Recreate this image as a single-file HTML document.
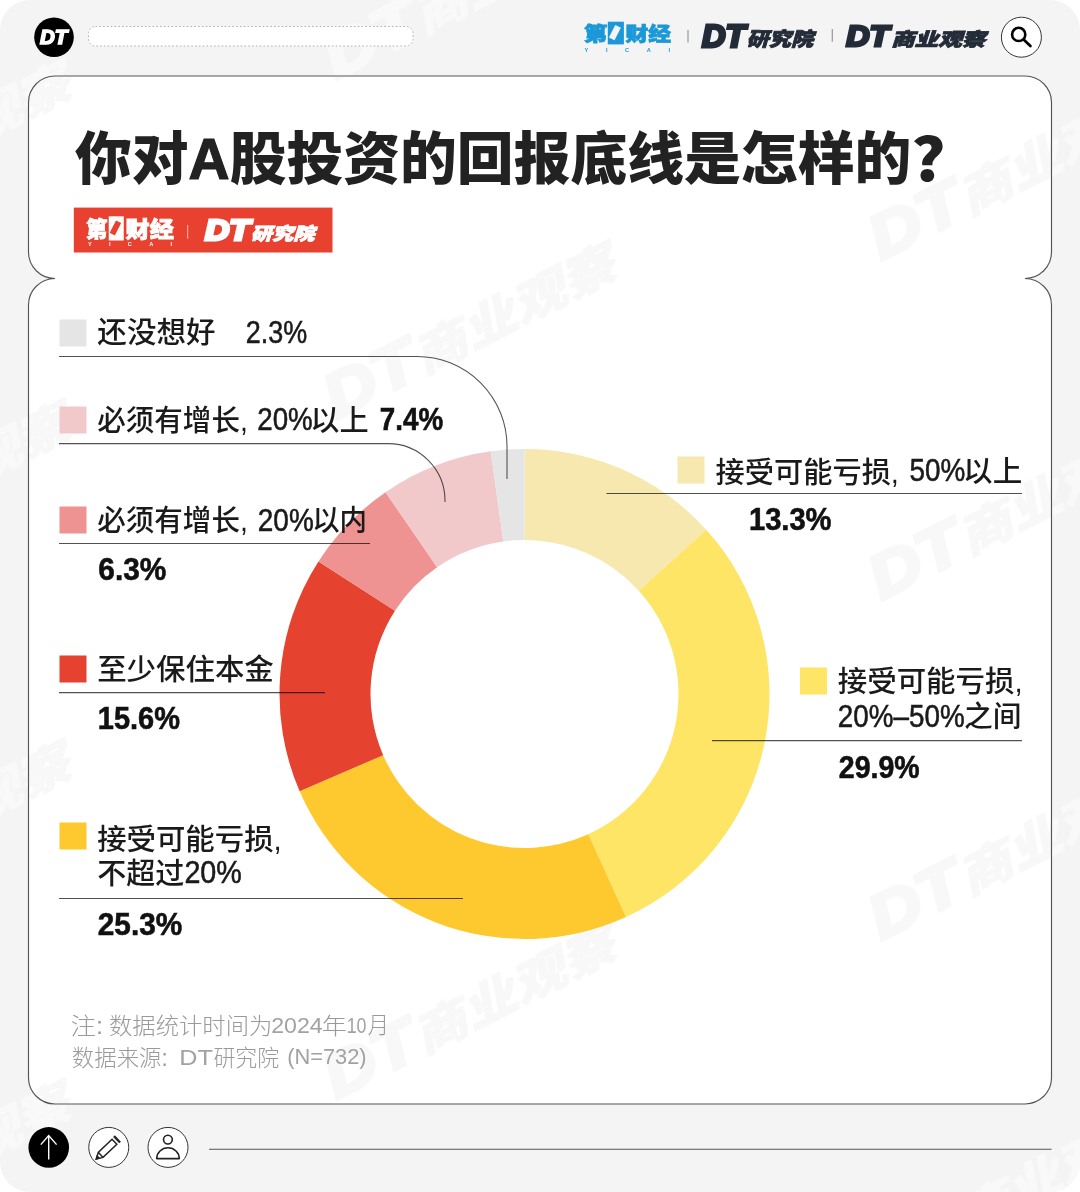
<!DOCTYPE html>
<html lang="zh-CN">
<head>
<meta charset="utf-8">
<title>你对A股投资的回报底线是怎样的?</title>
<style>
  html, body { margin: 0; padding: 0; background: #ffffff; }
  body { width: 1080px; height: 1192px; overflow: hidden; position: relative;
         font-family: "Liberation Sans", "Noto Sans CJK SC", sans-serif; }
  #page { position: absolute; left: 0; top: 0; width: 1080px; height: 1192px;
          background: #f4f4f4; border-radius: 30px; overflow: hidden; }
  svg { position: absolute; left: 0; top: 0; }
  text { font-family: "Liberation Sans", "Noto Sans CJK SC", sans-serif; }
  .lbl { font-weight: 500; fill: #1a1a1a; }
  .lat { font-weight: 400; fill: #1a1a1a; stroke: #1a1a1a; stroke-width: 0.55px; }
  .num { font-weight: 700; fill: #111111; stroke: #111111; stroke-width: 0.6px; }
  .note { font-weight: 300; fill: #9a9a9a; }
  .notel { font-weight: 400; fill: #a2a2a2; }
  .title { font-size: 57px; font-weight: 900; fill: #222222; }
  .lead { fill: none; stroke: #000000; stroke-opacity: 0.68; stroke-width: 1.05; }
</style>

</head>
<body>
<div id="page">
<svg width="1080" height="1192" viewBox="0 0 1080 1192">
  <!-- outer-page watermarks (on grey) -->
  <defs>
   <clipPath id="cardclip"><rect x="29" y="76.5" width="1022" height="1027" rx="26"/></clipPath>
  </defs>
  <g fill="#ffffff" stroke="#ffffff" opacity="0.42">
    <text transform="translate(-75,150) rotate(-27)" text-anchor="middle" y="18" style="font-style:italic;font-weight:900" font-size="47" textLength="318" lengthAdjust="spacingAndGlyphs"><tspan font-size="62" style="font-weight:700" stroke-width="4">DT</tspan>商业观察</text>
    <text transform="translate(-75,490) rotate(-27)" text-anchor="middle" y="18" style="font-style:italic;font-weight:900" font-size="47" textLength="318" lengthAdjust="spacingAndGlyphs"><tspan font-size="62" style="font-weight:700" stroke-width="4">DT</tspan>商业观察</text>
    <text transform="translate(-75,830) rotate(-27)" text-anchor="middle" y="18" style="font-style:italic;font-weight:900" font-size="47" textLength="318" lengthAdjust="spacingAndGlyphs"><tspan font-size="62" style="font-weight:700" stroke-width="4">DT</tspan>商业观察</text>
    <text transform="translate(-75,1170) rotate(-27)" text-anchor="middle" y="18" style="font-style:italic;font-weight:900" font-size="47" textLength="318" lengthAdjust="spacingAndGlyphs"><tspan font-size="62" style="font-weight:700" stroke-width="4">DT</tspan>商业观察</text>
    <text transform="translate(470,-9) rotate(-27)" text-anchor="middle" y="18" style="font-style:italic;font-weight:900" font-size="47" textLength="318" lengthAdjust="spacingAndGlyphs"><tspan font-size="62" style="font-weight:700" stroke-width="4">DT</tspan>商业观察</text>
    <text transform="translate(470,331) rotate(-27)" text-anchor="middle" y="18" style="font-style:italic;font-weight:900" font-size="47" textLength="318" lengthAdjust="spacingAndGlyphs"><tspan font-size="62" style="font-weight:700" stroke-width="4">DT</tspan>商业观察</text>
    <text transform="translate(470,671) rotate(-27)" text-anchor="middle" y="18" style="font-style:italic;font-weight:900" font-size="47" textLength="318" lengthAdjust="spacingAndGlyphs"><tspan font-size="62" style="font-weight:700" stroke-width="4">DT</tspan>商业观察</text>
    <text transform="translate(470,1011) rotate(-27)" text-anchor="middle" y="18" style="font-style:italic;font-weight:900" font-size="47" textLength="318" lengthAdjust="spacingAndGlyphs"><tspan font-size="62" style="font-weight:700" stroke-width="4">DT</tspan>商业观察</text>
    <text transform="translate(1015,172) rotate(-27)" text-anchor="middle" y="18" style="font-style:italic;font-weight:900" font-size="47" textLength="318" lengthAdjust="spacingAndGlyphs"><tspan font-size="62" style="font-weight:700" stroke-width="4">DT</tspan>商业观察</text>
    <text transform="translate(1015,512) rotate(-27)" text-anchor="middle" y="18" style="font-style:italic;font-weight:900" font-size="47" textLength="318" lengthAdjust="spacingAndGlyphs"><tspan font-size="62" style="font-weight:700" stroke-width="4">DT</tspan>商业观察</text>
    <text transform="translate(1015,852) rotate(-27)" text-anchor="middle" y="18" style="font-style:italic;font-weight:900" font-size="47" textLength="318" lengthAdjust="spacingAndGlyphs"><tspan font-size="62" style="font-weight:700" stroke-width="4">DT</tspan>商业观察</text>
    <text transform="translate(1015,1192) rotate(-27)" text-anchor="middle" y="18" style="font-style:italic;font-weight:900" font-size="47" textLength="318" lengthAdjust="spacingAndGlyphs"><tspan font-size="62" style="font-weight:700" stroke-width="4">DT</tspan>商业观察</text>
  </g>
  <!-- card: two stacked rounded panels, outer outline only -->
  <path d="M55,76 H1025 A26.5,26.5 0 0 1 1051.5,102.5 V252 A26.5,26.5 0 0 1 1025,278.5
           A26.5,26.5 0 0 1 1051.5,305 V1077.5 A26.5,26.5 0 0 1 1025,1104 H55
           A26.5,26.5 0 0 1 28.5,1077.5 V305 A26.5,26.5 0 0 1 55,278.5
           A26.5,26.5 0 0 1 28.5,252 V102.5 A26.5,26.5 0 0 1 55,76 Z"
        fill="#ffffff" stroke="#555555" stroke-width="1.15"/>
  <g clip-path="url(#cardclip)"><g fill="#000000" stroke="#000000" opacity="0.028">
    <text transform="translate(-75,150) rotate(-27)" text-anchor="middle" y="18" style="font-style:italic;font-weight:900" font-size="47" textLength="318" lengthAdjust="spacingAndGlyphs"><tspan font-size="62" style="font-weight:700" stroke-width="4">DT</tspan>商业观察</text>
    <text transform="translate(-75,490) rotate(-27)" text-anchor="middle" y="18" style="font-style:italic;font-weight:900" font-size="47" textLength="318" lengthAdjust="spacingAndGlyphs"><tspan font-size="62" style="font-weight:700" stroke-width="4">DT</tspan>商业观察</text>
    <text transform="translate(-75,830) rotate(-27)" text-anchor="middle" y="18" style="font-style:italic;font-weight:900" font-size="47" textLength="318" lengthAdjust="spacingAndGlyphs"><tspan font-size="62" style="font-weight:700" stroke-width="4">DT</tspan>商业观察</text>
    <text transform="translate(-75,1170) rotate(-27)" text-anchor="middle" y="18" style="font-style:italic;font-weight:900" font-size="47" textLength="318" lengthAdjust="spacingAndGlyphs"><tspan font-size="62" style="font-weight:700" stroke-width="4">DT</tspan>商业观察</text>
    <text transform="translate(470,-9) rotate(-27)" text-anchor="middle" y="18" style="font-style:italic;font-weight:900" font-size="47" textLength="318" lengthAdjust="spacingAndGlyphs"><tspan font-size="62" style="font-weight:700" stroke-width="4">DT</tspan>商业观察</text>
    <text transform="translate(470,331) rotate(-27)" text-anchor="middle" y="18" style="font-style:italic;font-weight:900" font-size="47" textLength="318" lengthAdjust="spacingAndGlyphs"><tspan font-size="62" style="font-weight:700" stroke-width="4">DT</tspan>商业观察</text>
    <text transform="translate(470,671) rotate(-27)" text-anchor="middle" y="18" style="font-style:italic;font-weight:900" font-size="47" textLength="318" lengthAdjust="spacingAndGlyphs"><tspan font-size="62" style="font-weight:700" stroke-width="4">DT</tspan>商业观察</text>
    <text transform="translate(470,1011) rotate(-27)" text-anchor="middle" y="18" style="font-style:italic;font-weight:900" font-size="47" textLength="318" lengthAdjust="spacingAndGlyphs"><tspan font-size="62" style="font-weight:700" stroke-width="4">DT</tspan>商业观察</text>
    <text transform="translate(1015,172) rotate(-27)" text-anchor="middle" y="18" style="font-style:italic;font-weight:900" font-size="47" textLength="318" lengthAdjust="spacingAndGlyphs"><tspan font-size="62" style="font-weight:700" stroke-width="4">DT</tspan>商业观察</text>
    <text transform="translate(1015,512) rotate(-27)" text-anchor="middle" y="18" style="font-style:italic;font-weight:900" font-size="47" textLength="318" lengthAdjust="spacingAndGlyphs"><tspan font-size="62" style="font-weight:700" stroke-width="4">DT</tspan>商业观察</text>
    <text transform="translate(1015,852) rotate(-27)" text-anchor="middle" y="18" style="font-style:italic;font-weight:900" font-size="47" textLength="318" lengthAdjust="spacingAndGlyphs"><tspan font-size="62" style="font-weight:700" stroke-width="4">DT</tspan>商业观察</text>
    <text transform="translate(1015,1192) rotate(-27)" text-anchor="middle" y="18" style="font-style:italic;font-weight:900" font-size="47" textLength="318" lengthAdjust="spacingAndGlyphs"><tspan font-size="62" style="font-weight:700" stroke-width="4">DT</tspan>商业观察</text>
  </g></g>
  <!-- header -->
  <circle cx="54" cy="37.2" r="19.8" fill="#000000"/>
  <rect x="88.5" y="26.5" width="324.5" height="19.5" rx="7" fill="#ffffff" stroke="#b0b0b0" stroke-width="1" stroke-dasharray="1.6 2.2"/>
  <circle cx="1021.4" cy="37.2" r="20" fill="#ffffff" stroke="#333333" stroke-width="1"/>
  <circle cx="1018.7" cy="34.4" r="6.6" fill="none" stroke="#000000" stroke-width="2.6"/>
  <path d="M1023.6,39.6 L1030.4,46" stroke="#000000" stroke-width="2.8" stroke-linecap="round"/>

  <text x="40.0" y="44.2" font-size="19.5" textLength="27.3" lengthAdjust="spacingAndGlyphs" style="font-weight:700;font-style:italic" fill="#ffffff" stroke="#ffffff" stroke-width="1.6" stroke-linejoin="miter">DT</text>
  <text x="583.9" y="41.1" font-size="19.4" textLength="23.27" lengthAdjust="spacingAndGlyphs" style="font-weight:900;font-style:normal" fill="#1b98d8" stroke="#1b98d8" stroke-width="0.8" stroke-linejoin="miter">第</text>
  <rect x="607.8" y="21.7" width="16.1" height="22.7" fill="#1b98d8"/>
  <text x="0" y="0" font-size="15" style="font-weight:900" fill="#f4f4f4" text-anchor="middle" transform="translate(615.9,33.2) rotate(-63) scale(1,2.6) translate(0,5.4)">一</text>
  <text x="625.6" y="41.1" font-size="19.4" textLength="45.24" lengthAdjust="spacingAndGlyphs" style="font-weight:900;font-style:normal" fill="#1b98d8" stroke="#1b98d8" stroke-width="0.8" stroke-linejoin="miter">财经</text>
  <text x="584.5" y="52.0" font-size="5.6" style="font-weight:700;letter-spacing:17.65px" fill="#1b98d8">YICAI</text>
  <path d="M688,30 V42.5 M832.3,29 V41.8" stroke="#9a9a9a" stroke-width="1.2"/>
  <text x="702.06" y="46.7" font-size="30.75" textLength="43.32" lengthAdjust="spacingAndGlyphs" style="font-weight:700;font-style:italic" fill="#232b38" stroke="#232b38" stroke-width="3.0" stroke-linejoin="miter">DT</text>
  <text x="746.56" y="45.8" font-size="19.4" textLength="66.61" lengthAdjust="spacingAndGlyphs" style="font-weight:900;font-style:italic" fill="#232b38" stroke="#232b38" stroke-width="0.8" stroke-linejoin="miter">研究院</text>
  <text x="846.36" y="46.05" font-size="30.38" textLength="42.93" lengthAdjust="spacingAndGlyphs" style="font-weight:700;font-style:italic" fill="#232b38" stroke="#232b38" stroke-width="3.0" stroke-linejoin="miter">DT</text>
  <text x="890.93" y="45.9" font-size="18.6" textLength="94.46" lengthAdjust="spacingAndGlyphs" style="font-weight:900;font-style:italic" fill="#232b38" stroke="#232b38" stroke-width="0.8" stroke-linejoin="miter">商业观察</text>
  <!-- title -->
  <text class="title" x="75" y="179.45" textLength="836.26" lengthAdjust="spacingAndGlyphs">你对<tspan stroke="#222222" stroke-width="1.2">A</tspan>股投资的回报底线是怎样的</text>
  <text class="title" x="910.9" y="180.55" font-size="59.1" textLength="34.7" lengthAdjust="spacingAndGlyphs" style="font-family:'Noto Sans CJK SC',sans-serif;font-size:59.1px">?</text>

  <rect x="73.8" y="207.6" width="258.7" height="44.9" fill="#e8412f"/>
  <text x="86.02" y="237.0" font-size="22.0" textLength="21.49" lengthAdjust="spacingAndGlyphs" style="font-weight:900;font-style:normal" fill="#ffffff" stroke="#ffffff" stroke-width="0.8" stroke-linejoin="miter">第</text>
  <rect x="108.75" y="216.3" width="15" height="24.2" fill="#ffffff"/>
  <text x="0" y="0" font-size="15" style="font-weight:900" fill="#e8412f" text-anchor="middle" transform="translate(116.25,228.4) rotate(-63) scale(1,2.4) translate(0,5.4)">一</text>
  <text x="125.5" y="237.0" font-size="22.0" textLength="48.27" lengthAdjust="spacingAndGlyphs" style="font-weight:900;font-style:normal" fill="#ffffff" stroke="#ffffff" stroke-width="0.8" stroke-linejoin="miter">财经</text>
  <text x="88" y="245.8" font-size="5.6" style="font-weight:700;letter-spacing:17.28px" fill="#ffffff">YICAI</text>
  <path d="M187.6,225 V238.8" stroke="#f4a79d" stroke-width="1.2"/>
  <text x="204.91" y="239.62" font-size="29.06" textLength="45.04" lengthAdjust="spacingAndGlyphs" style="font-weight:700;font-style:italic" fill="#ffffff" stroke="#ffffff" stroke-width="3.0" stroke-linejoin="miter">DT</text>
  <text x="250.79" y="239.5" font-size="17.5" textLength="63.72" lengthAdjust="spacingAndGlyphs" style="font-weight:900;font-style:italic" fill="#ffffff" stroke="#ffffff" stroke-width="0.8" stroke-linejoin="miter">研究院</text>
  <!-- donut -->
  <circle cx="524.5" cy="694.0" r="155.0" fill="#ffffff"/>
  <path d="M524.50,449.00 A245.0,245.0 0 0 1 706.23,529.68 L638.73,590.71 A154.0,154.0 0 0 0 524.50,540.00 Z" fill="#f7e8b0"/>
  <path d="M706.23,529.68 A245.0,245.0 0 0 1 626.02,916.98 L588.31,834.16 A154.0,154.0 0 0 0 638.73,590.71 Z" fill="#fee566"/>
  <path d="M626.02,916.98 A245.0,245.0 0 0 1 299.65,791.30 L383.17,755.16 A154.0,154.0 0 0 0 588.31,834.16 Z" fill="#fec92e"/>
  <path d="M299.65,791.30 A245.0,245.0 0 0 1 318.47,561.43 L394.99,610.67 A154.0,154.0 0 0 0 383.17,755.16 Z" fill="#e5432f"/>
  <path d="M318.47,561.43 A245.0,245.0 0 0 1 385.52,492.23 L437.14,567.18 A154.0,154.0 0 0 0 394.99,610.67 Z" fill="#ee9391"/>
  <path d="M385.52,492.23 A245.0,245.0 0 0 1 490.74,451.34 L503.28,541.47 A154.0,154.0 0 0 0 437.14,567.18 Z" fill="#f1c9cb"/>
  <path d="M490.74,451.34 A245.0,245.0 0 0 1 524.50,449.00 L524.50,540.00 A154.0,154.0 0 0 0 503.28,541.47 Z" fill="#e5e5e5"/>
  <!-- legends -->
  <rect x="59.5" y="319.5" width="27" height="27" fill="#e5e5e5"/>
  <rect x="59.5" y="406.5" width="27" height="27" fill="#f1c9cb"/>
  <rect x="59.5" y="506.5" width="27" height="27" fill="#ee9391"/>
  <rect x="59.5" y="655.5" width="27" height="27" fill="#e5432f"/>
  <rect x="59.5" y="822.5" width="27" height="27" fill="#fec92e"/>
  <rect x="677.5" y="456.5" width="27" height="27" fill="#f7e8b0"/>
  <rect x="800" y="667.5" width="27" height="27" fill="#fee566"/>
  <path class="lead" d="M59,356.4 H417 A90,90 0 0 1 507,446.4 V479"/>
  <path class="lead" d="M59,443.6 H388 A57,57 0 0 1 445,500.6 V502"/>
  <path class="lead" d="M59,543.4 H370"/>
  <path class="lead" d="M59,692.6 H325"/>
  <path class="lead" d="M59,898.4 H463"/>
  <path class="lead" d="M606.5,493.5 H1022"/>
  <path class="lead" d="M712,740.6 H1022"/>

  <text class="lbl" x="97.38" y="342.9" font-size="29" textLength="118.05" lengthAdjust="spacingAndGlyphs">还没想好</text>
  <text class="lat" x="245.84" y="343.45" font-size="31.42" textLength="61.37" lengthAdjust="spacingAndGlyphs">2.3%</text>
  <text class="lbl" x="97.32" y="431.1" font-size="29" textLength="150.51" lengthAdjust="spacingAndGlyphs">必须有增长,</text>
  <text class="lat" x="257.31" y="430.0" font-size="31.0" textLength="55.43" lengthAdjust="spacingAndGlyphs">20%</text>
  <text class="lbl" x="310.18" y="430.5" font-size="29" textLength="58.45" lengthAdjust="spacingAndGlyphs">以上</text>
  <text class="num" x="379.8" y="430.0" font-size="31.0" textLength="63.3" lengthAdjust="spacingAndGlyphs">7.4%</text>
  <text class="lbl" x="97.32" y="531.1" font-size="29" textLength="150.51" lengthAdjust="spacingAndGlyphs">必须有增长,</text>
  <text class="lat" x="257.8" y="530.6" font-size="31.0" textLength="55.95" lengthAdjust="spacingAndGlyphs">20%</text>
  <text class="lbl" x="312.16" y="531.0" font-size="29" textLength="54.89" lengthAdjust="spacingAndGlyphs">以内</text>
  <text class="num" x="98.35" y="580.1" font-size="31.28" textLength="67.91" lengthAdjust="spacingAndGlyphs">6.3%</text>
  <text class="lbl" x="97.18" y="680.0" font-size="29" textLength="176.65" lengthAdjust="spacingAndGlyphs">至少保住本金</text>
  <text class="num" x="97.85" y="728.9" font-size="31.28" textLength="82.16" lengthAdjust="spacingAndGlyphs">15.6%</text>
  <text class="lbl" x="97.19" y="849.7" font-size="29" textLength="184.5" lengthAdjust="spacingAndGlyphs">接受可能亏损,</text>
  <text class="lbl" x="97.2" y="883.9" font-size="29" textLength="87.12" lengthAdjust="spacingAndGlyphs">不超过</text>
  <text class="lat" x="184.38" y="882.9" font-size="31.28" textLength="57.45" lengthAdjust="spacingAndGlyphs">20%</text>
  <text class="num" x="97.81" y="935.2" font-size="31.56" textLength="84.42" lengthAdjust="spacingAndGlyphs">25.3%</text>
  <text class="lbl" x="715.59" y="482.55" font-size="29" textLength="183.38" lengthAdjust="spacingAndGlyphs">接受可能亏损,</text>
  <text class="lat" x="909.41" y="481.1" font-size="31.28" textLength="55.81" lengthAdjust="spacingAndGlyphs">50%</text>
  <text class="lbl" x="963.14" y="481.6" font-size="29" textLength="59.09" lengthAdjust="spacingAndGlyphs">以上</text>
  <text class="num" x="748.94" y="529.9" font-size="31.28" textLength="82.57" lengthAdjust="spacingAndGlyphs">13.3%</text>
  <text class="lbl" x="837.73" y="691.8" font-size="29" textLength="184.96" lengthAdjust="spacingAndGlyphs">接受可能亏损,</text>
  <text class="lat" x="837.86" y="726.7" font-size="31.28" textLength="126.83" lengthAdjust="spacingAndGlyphs">20%–50%</text>
  <text class="lbl" x="964.12" y="726.65" font-size="29" textLength="57.48" lengthAdjust="spacingAndGlyphs">之间</text>
  <text class="num" x="838.79" y="777.6" font-size="31.28" textLength="80.81" lengthAdjust="spacingAndGlyphs">29.9%</text>
  <text class="note" x="70.58" y="1033.5" font-size="23" textLength="32.56" lengthAdjust="spacingAndGlyphs">注:</text>
  <text class="note" x="108.99" y="1033.5" font-size="23" textLength="163.34" lengthAdjust="spacingAndGlyphs">数据统计时间为</text>
  <text class="notel" x="271.18" y="1032.7" font-size="22.73" textLength="51.58" lengthAdjust="spacingAndGlyphs">2024</text>
  <text class="note" x="321.81" y="1033.5" font-size="23" textLength="25.08" lengthAdjust="spacingAndGlyphs">年</text>
  <text class="notel" x="346.73" y="1032.7" font-size="22.73" textLength="19.79" lengthAdjust="spacingAndGlyphs">10</text>
  <text class="note" x="367.82" y="1033.0" font-size="23" textLength="21.27" lengthAdjust="spacingAndGlyphs">月</text>
  <text class="note" x="71.83" y="1065.5" font-size="23" textLength="95.9" lengthAdjust="spacingAndGlyphs">数据来源:</text>
  <text class="notel" x="179.19" y="1064.65" font-size="22.86" textLength="33.64" lengthAdjust="spacingAndGlyphs">DT</text>
  <text class="note" x="213.45" y="1065.5" font-size="23" textLength="65.81" lengthAdjust="spacingAndGlyphs">研究院</text>
  <text class="notel" x="287.2" y="1063.8" font-size="21.8" textLength="79.46" lengthAdjust="spacingAndGlyphs">(N=732)</text>
  <!-- footer -->
  <circle cx="48.75" cy="1147.4" r="20.3" fill="#000000"/>
  <path d="M48.7,1159.6 V1135.6 M40.8,1144.6 L48.7,1135.6 L56.6,1144.6" fill="none" stroke="#ffffff" stroke-width="1.4"/>
  <circle cx="108.75" cy="1147.4" r="20" fill="#ffffff" stroke="#333333" stroke-width="1"/>
  <g transform="translate(96.3,1159) rotate(-43.5)" fill="none" stroke="#222222" stroke-width="1.5" stroke-linejoin="miter">
    <path d="M0,0 L6,-3.5 H25 V3.5 H6 Z M6,-3.5 V3.5"/>
    <path d="M0,0 L2.6,-1.4 V1.4 Z" fill="#222222"/>
    <path d="M28.6,-4.4 V4.4" stroke-width="2.4"/>
  </g>
  <circle cx="168" cy="1147.4" r="20" fill="#ffffff" stroke="#333333" stroke-width="1"/>
  <circle cx="167.9" cy="1139.6" r="4.4" fill="none" stroke="#222222" stroke-width="1.6"/>
  <path d="M156.7,1158.6 A11.3,10.8 0 0 1 179.3,1158.6 Z" fill="none" stroke="#222222" stroke-width="1.6" stroke-linejoin="round"/>
  <path d="M209,1149.2 H1051.5" fill="none" stroke="#555555" stroke-width="1.1"/>

</svg>
</div>
</body>
</html>
